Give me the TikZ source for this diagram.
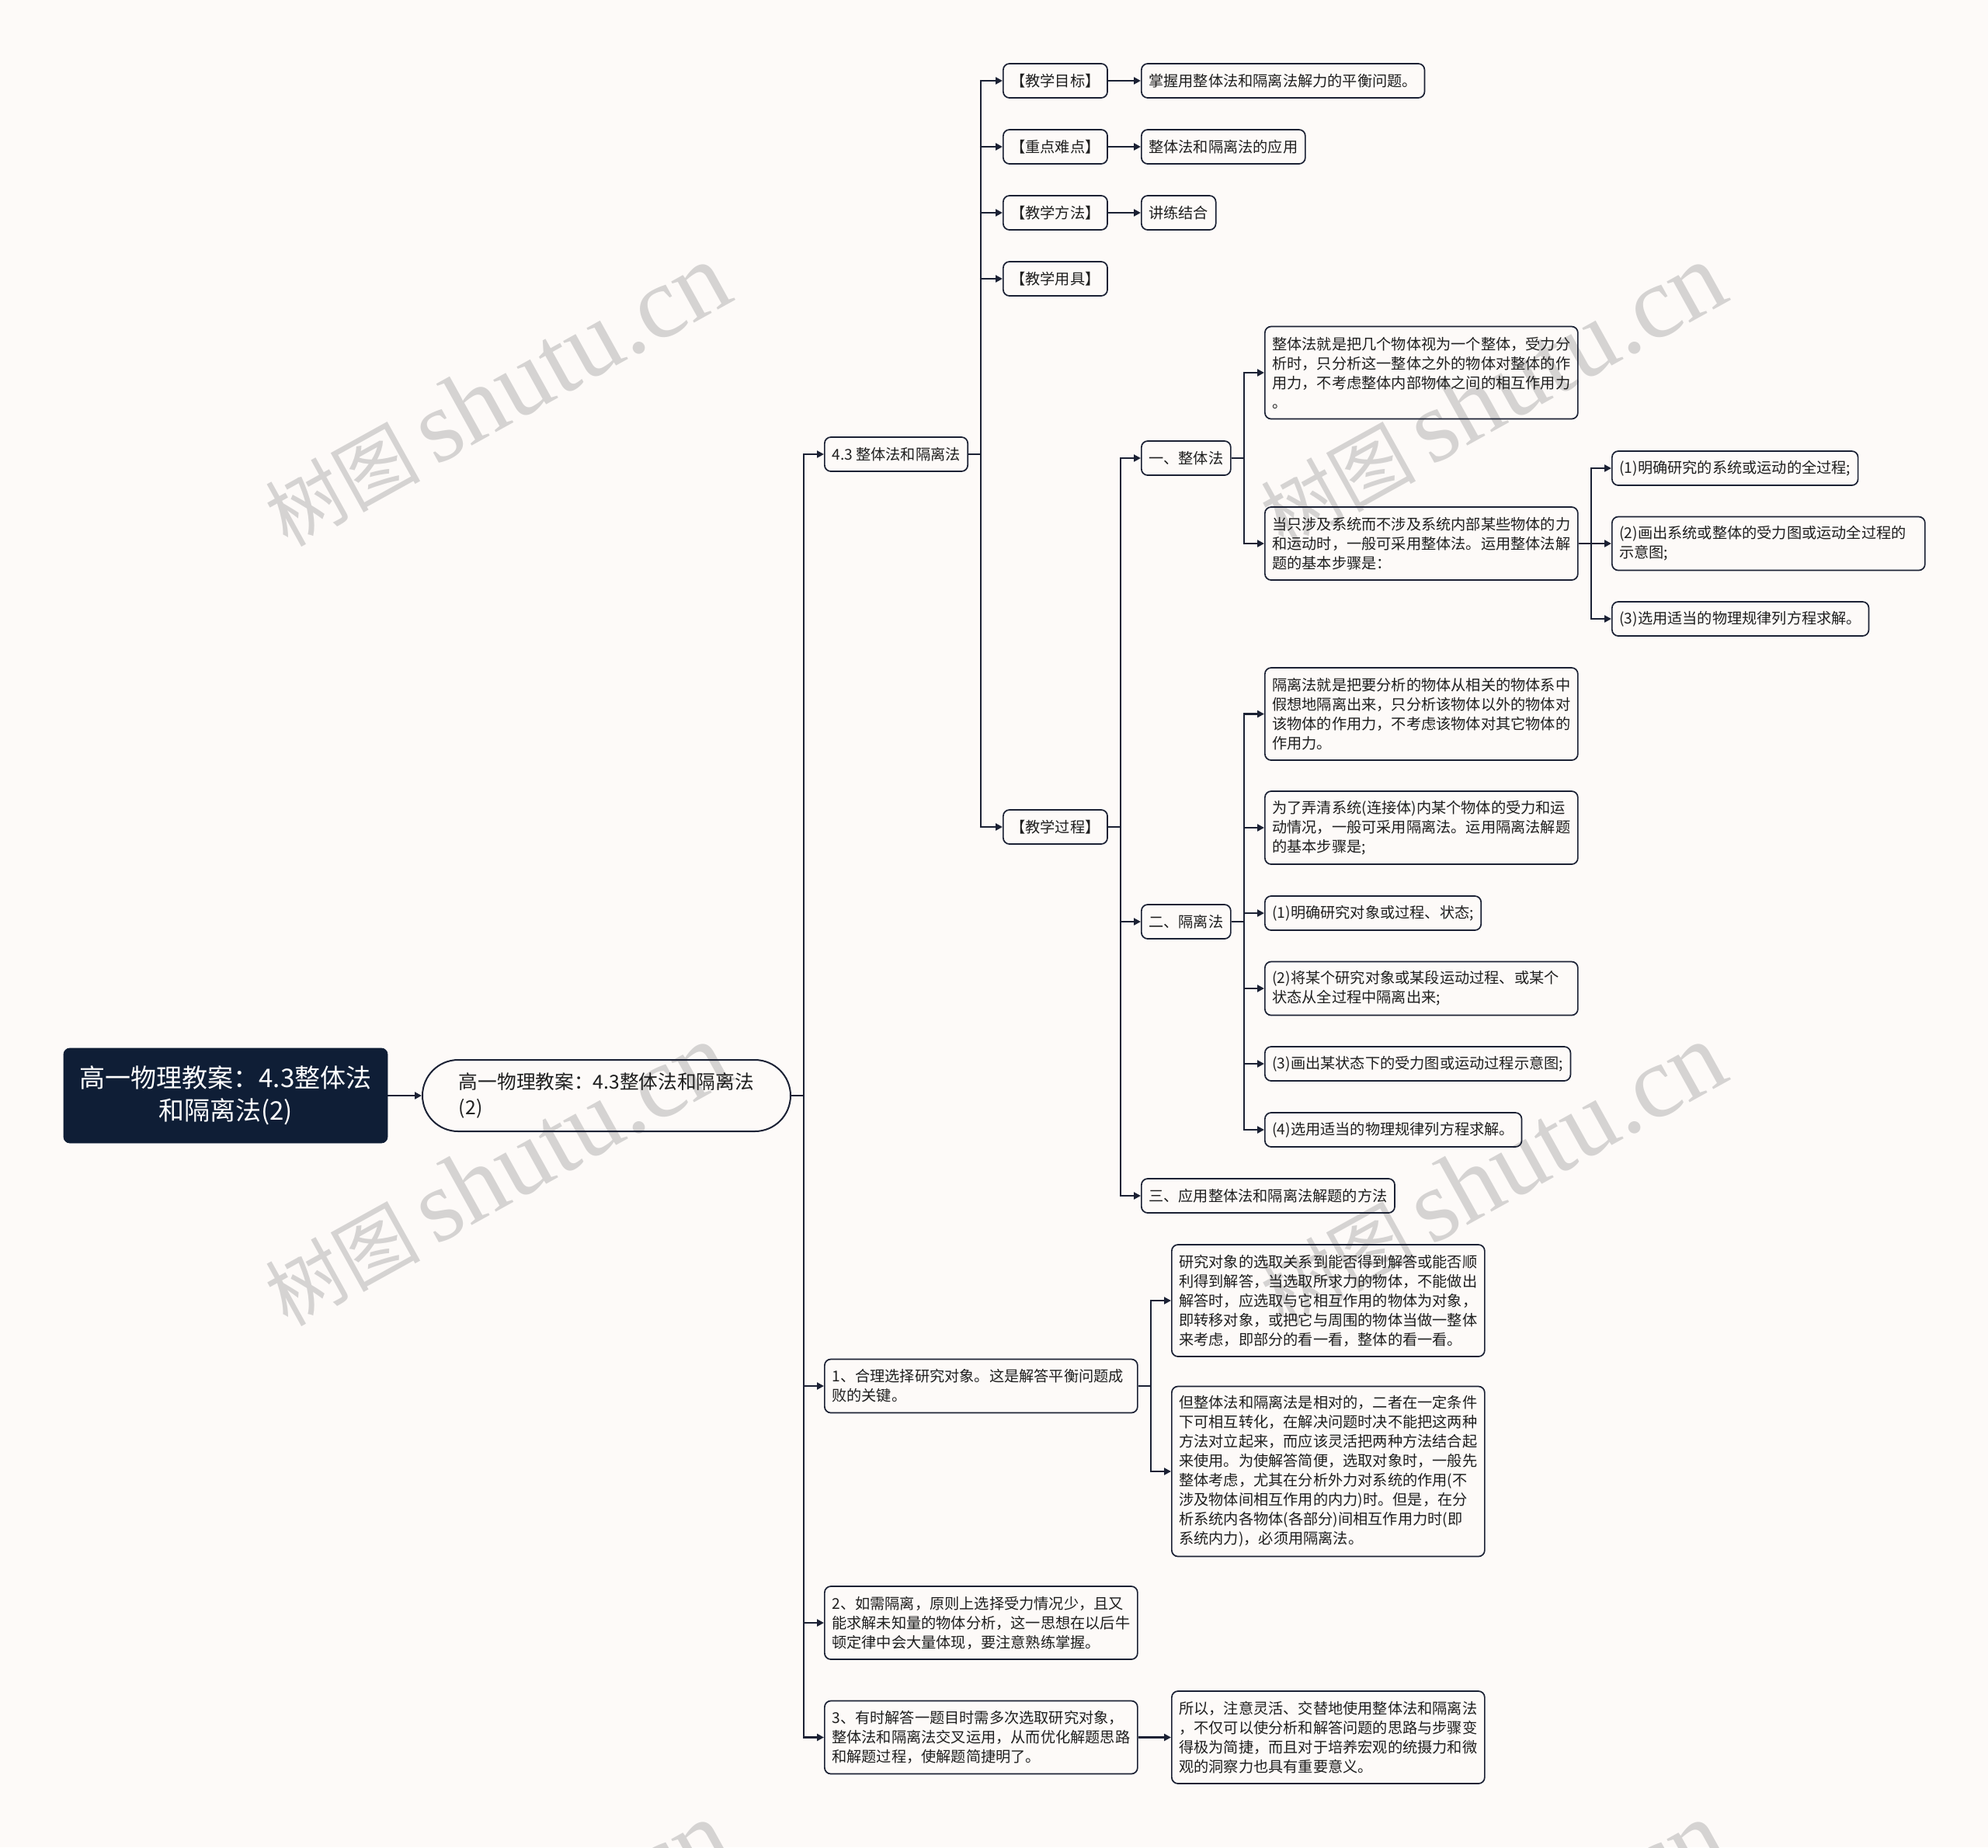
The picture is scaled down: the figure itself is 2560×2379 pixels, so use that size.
\documentclass[tikz,border=0pt]{standalone}
\usepackage{fontspec}
\setmainfont{Noto Sans CJK SC}
\newfontfamily\wmcjk{Noto Sans CJK SC}
\newfontfamily\wmlat{Liberation Serif}
\usetikzlibrary{arrows.meta}
\definecolor{bgc}{RGB}{253,250,248}
\definecolor{lc}{RGB}{27,33,52}
\definecolor{rootc}{RGB}{15,30,54}
\definecolor{txc}{RGB}{30,30,30}
\definecolor{wmc}{RGB}{213,211,210}
\newcommand{\fsn}{\fontsize{9.6pt}{12.5pt}\selectfont}
\newcommand{\wmtext}{{\fontsize{50pt}{50pt}\wmcjk 树图}\hspace{9pt}{\fontsize{66pt}{66pt}\wmlat shutu.cn}}
\begin{document}
\begin{tikzpicture}[x=0.5pt,y=-0.5pt,
  bx/.style={draw=lc, line width=0.85pt, rounded corners=4pt, inner xsep=4.75pt, inner ysep=0pt,
             align=left, font=\fsn, text=txc, anchor=west, minimum height=22pt},
  wide/.style={text width=192pt},
  hb/.style={minimum height=34.5pt},
  hc/.style={minimum height=47pt},
  hd/.style={minimum height=59.5pt},
  he/.style={minimum height=72pt},
  hh/.style={minimum height=109.5pt},
  conn/.style={draw=lc, line width=1.2pt, -{Triangle[length=4.5pt,width=4.5pt]}},
  wmark/.style={rotate=29, text=wmc, inner sep=0pt, anchor=base west}
]
\useasboundingbox (0,0) rectangle (2560,2379);
\fill[bgc] (0,0) rectangle (2560,2379);

% watermarks
\begin{scope}
\clip (0,0) rectangle (2560,2379);
\foreach \wx/\wy [count=\i] in {370/706, 1652/706, 370/1710, 1652/1710, 370/2712, 1652/2712}
  \node[wmark] (wm\i) at (\wx,\wy) {\wmtext};
\end{scope}

% root and level 1
\node[draw=rootc, fill=rootc, rounded corners=4pt, minimum width=208.5pt, minimum height=61pt,
      text=white, font=\fontsize{16.5pt}{20.8pt}\selectfont, align=center, inner sep=0pt]
  (root) at (290.5,1411) {高一物理教案：4.3整体法\\和隔离法(2)};
\node[draw=lc, line width=1pt, rounded corners=23pt, minimum width=237pt, minimum height=46pt,
      text=txc, font=\fontsize{12.35pt}{16.5pt}\selectfont, align=left, anchor=west, inner sep=0pt]
  (l1) at (543,1411) {高一物理教案：4.3整体法和隔离法\\(2)};

% level 2
\node[bx] (n43) at (1061,585) {4.3 整体法和隔离法};
\node[bx,wide,hb] (p1) at (1061,1785) {1、合理选择研究对象。这是解答平衡问题成\\败的关键。};
\node[bx,wide,hc] (p2) at (1061,2090) {2、如需隔离，原则上选择受力情况少，且又\\能求解未知量的物体分析，这一思想在以后牛\\顿定律中会大量体现，要注意熟练掌握。};
\node[bx,wide,hc] (p3) at (1061,2237.5) {3、有时解答一题目时需多次选取研究对象，\\整体法和隔离法交叉运用，从而优化解题思路\\和解题过程，使解题简捷明了。};

% level 3 under 4.3
\node[bx] (mubiao) at (1291,104) {【教学目标】};
\node[bx] (zhongdian) at (1291,189) {【重点难点】};
\node[bx] (fangfa) at (1291,274) {【教学方法】};
\node[bx] (yongju) at (1291,359) {【教学用具】};
\node[bx] (guocheng) at (1291,1065) {【教学过程】};

\node[bx] (mbL) at (1469,104) {掌握用整体法和隔离法解力的平衡问题。};
\node[bx] (zdL) at (1469,189) {整体法和隔离法的应用};
\node[bx] (ffL) at (1469,274) {讲练结合};

\node[bx] (zt) at (1469,590) {一、整体法};
\node[bx] (gl) at (1469,1187) {二、隔离法};
\node[bx] (sy) at (1469,1540) {三、应用整体法和隔离法解题的方法};

% 整体法 children
\node[bx,wide,hd] (za) at (1628,480) {整体法就是把几个物体视为一个整体，受力分\\析时，只分析这一整体之外的物体对整体的作\\用力，不考虑整体内部物体之间的相互作用力\\。};
\node[bx,wide,hc] (zb) at (1628,700) {当只涉及系统而不涉及系统内部某些物体的力\\和运动时，一般可采用整体法。运用整体法解\\题的基本步骤是：};
\node[bx] (zb1) at (2075,603) {(1)明确研究的系统或运动的全过程;};
\node[bx,wide,hb] (zb2) at (2075,700) {(2)画出系统或整体的受力图或运动全过程的\\示意图;};
\node[bx] (zb3) at (2075,797) {(3)选用适当的物理规律列方程求解。};

% 隔离法 children
\node[bx,wide,hd] (ga) at (1628,919.5) {隔离法就是把要分析的物体从相关的物体系中\\假想地隔离出来，只分析该物体以外的物体对\\该物体的作用力，不考虑该物体对其它物体的\\作用力。};
\node[bx,wide,hc] (gb) at (1628,1066) {为了弄清系统(连接体)内某个物体的受力和运\\动情况，一般可采用隔离法。运用隔离法解题\\的基本步骤是;};
\node[bx] (gc) at (1628,1176) {(1)明确研究对象或过程、状态;};
\node[bx,wide,hb] (gd) at (1628,1273) {(2)将某个研究对象或某段运动过程、或某个\\状态从全过程中隔离出来;};
\node[bx] (ge) at (1628,1370) {(3)画出某状态下的受力图或运动过程示意图;};
\node[bx] (gf) at (1628,1455) {(4)选用适当的物理规律列方程求解。};

% 1、 children
\node[bx,wide,he] (r1) at (1508,1675) {研究对象的选取关系到能否得到解答或能否顺\\利得到解答，当选取所求力的物体，不能做出\\解答时，应选取与它相互作用的物体为对象，\\即转移对象，或把它与周围的物体当做一整体\\来考虑，即部分的看一看，整体的看一看。};
\node[bx,wide,hh] (r2) at (1508,1895) {但整体法和隔离法是相对的，二者在一定条件\\下可相互转化，在解决问题时决不能把这两种\\方法对立起来，而应该灵活把两种方法结合起\\来使用。为使解答简便，选取对象时，一般先\\整体考虑，尤其在分析外力对系统的作用(不\\涉及物体间相互作用的内力)时。但是，在分\\析系统内各物体(各部分)间相互作用力时(即\\系统内力)，必须用隔离法。};
\node[bx,wide,hd] (so) at (1508,2237.5) {所以，注意灵活、交替地使用整体法和隔离法\\，不仅可以使分析和解答问题的思路与步骤变\\得极为简捷，而且对于培养宏观的统摄力和微\\观的洞察力也具有重要意义。};

% connectors
\draw[conn] (root.east) -- (l1.west);
\foreach \c in {n43,p1,p2,p3}
  \draw[conn] (l1.east) -- ++(16,0) |- (\c.west);
\foreach \c in {mubiao,zhongdian,fangfa,yongju,guocheng}
  \draw[conn] (n43.east) -- ++(16,0) |- (\c.west);
\draw[conn] (mubiao.east) -- (mbL.west);
\draw[conn] (zhongdian.east) -- (zdL.west);
\draw[conn] (fangfa.east) -- (ffL.west);
\foreach \c in {zt,gl,sy}
  \draw[conn] (guocheng.east) -- ++(16,0) |- (\c.west);
\foreach \c in {za,zb}
  \draw[conn] (zt.east) -- ++(16,0) |- (\c.west);
\foreach \c in {zb1,zb2,zb3}
  \draw[conn] (zb.east) -- ++(16,0) |- (\c.west);
\foreach \c in {ga,gb,gc,gd,ge,gf}
  \draw[conn] (gl.east) -- ++(16,0) |- (\c.west);
\foreach \c in {r1,r2}
  \draw[conn] (p1.east) -- ++(16,0) |- (\c.west);
\draw[conn] (p3.east) -- (so.west);
\end{tikzpicture}
\end{document}
